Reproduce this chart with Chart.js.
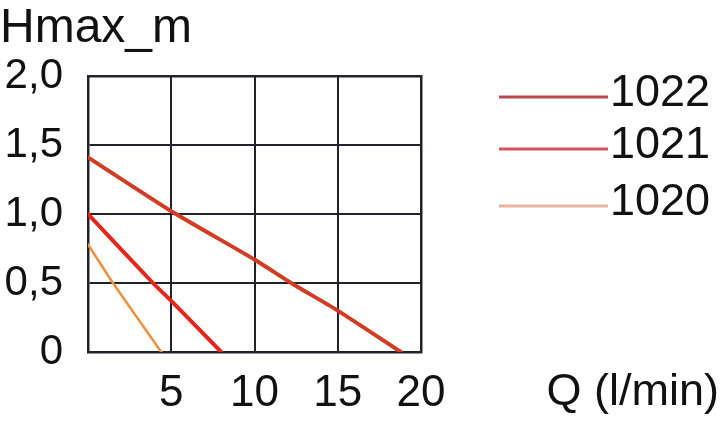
<!DOCTYPE html>
<html>
<head>
<meta charset="utf-8">
<script src="https://cdn.jsdelivr.net/npm/chart.js@4.4.0/dist/chart.umd.min.js"></script>
<style>
  html, body { margin: 0; padding: 0; background: #ffffff; }
  #wrap { width: 720px; height: 424px; position: relative; }
</style>
</head>
<body>
<div id="wrap"><canvas id="c" width="720" height="424"></canvas></div>
<script>
// ---- data ----
const seriesLabels = ['1022', '1021', '1020'];
const q1022 = [0, 5, 10, 12.2, 15, 18.8];
const h1022 = [1.41, 1.02, 0.67, 0.5, 0.3, 0];
const q1021 = [0, 3.9, 5, 8.0];
const h1021 = [1.0, 0.5, 0.37, 0];
const q1020 = [0, 1.5, 4.4];
const h1020 = [0.78, 0.5, 0];
const xTickLabels = ['', '5', '10', '15', '20'];
const yTickLabels = ['0', '0,5', '1,0', '1,5', '2,0'];
const yTitle = 'Hmax_m';
const xTitle = 'Q (l/min)';

// ---- styles ----
const lineColors = ['#d13c22', '#e6261c', '#f0913a'];
const legendColors = ['#b54a52', '#d8505e', '#e9b5a0'];
const lineWidths = [4, 4, 2.5];
const FONT = '"Liberation Sans", Arial, Helvetica, sans-serif';
const TEXT = '#111111';
const GRID = '#22222c';

function pts(xs, ys) { return xs.map((x, i) => ({ x: x, y: ys[i] })); }
const allData = [pts(q1022, h1022), pts(q1021, h1021), pts(q1020, h1020)];

const datasets = allData.map((d, i) => ({
  label: seriesLabels[i],
  data: d,
  borderColor: lineColors[i],
  backgroundColor: lineColors[i],
  borderWidth: lineWidths[i],
  borderCapStyle: 'round',
  borderJoinStyle: 'round',
  pointRadius: 0,
  tension: 0.15,
  fill: false
}));

const textPlugin = {
  id: 'textPlugin',
  afterDraw(chart) {
    const ctx = chart.ctx;
    ctx.save();
    ctx.fillStyle = TEXT;
    ctx.textBaseline = 'alphabetic';
    ctx.font = '48px ' + FONT;
    ctx.textAlign = 'left';
    ctx.fillText(yTitle, 0, 42);
    ctx.font = '45px ' + FONT;
    ctx.textAlign = 'right';
    ctx.fillText(xTitle, 719, 405);
    // legend
    const lineYs = [97, 149, 206];
    seriesLabels.forEach((lab, i) => {
      ctx.strokeStyle = legendColors[i];
      ctx.lineWidth = 3;
      ctx.lineCap = 'butt';
      ctx.beginPath();
      ctx.moveTo(499, lineYs[i]);
      ctx.lineTo(608, lineYs[i]);
      ctx.stroke();
      ctx.fillStyle = TEXT;
      ctx.textAlign = 'left';
      ctx.font = '45px ' + FONT;
      ctx.fillText(lab, 610, lineYs[i] + 9);
    });
    ctx.restore();
  }
};

new Chart(document.getElementById('c'), {
  type: 'line',
  data: { datasets: datasets },
  options: {
    responsive: false,
    animation: false,
    devicePixelRatio: 1,
    layout: { padding: { top: 76, right: 299, left: 0, bottom: 0 } },
    plugins: { legend: { display: false }, title: { display: false }, tooltip: { enabled: false } },
    scales: {
      x: {
        type: 'linear',
        min: 0, max: 20,
        afterFit(s) { s.height = 72; },
        afterBuildTicks(s) { s.ticks = xTickLabels.map((t, i) => ({ value: i * 5 })); },
        ticks: {
          stepSize: 5,
          autoSkip: false,
          maxRotation: 0,
          padding: 15,
          color: TEXT,
          font: { family: FONT, size: 44 },
          callback: (v, i) => xTickLabels[i]
        },
        grid: { color: GRID, lineWidth: 2, drawTicks: false },
        border: { display: true, color: GRID, width: 2.5 }
      },
      y: {
        type: 'linear',
        min: 0, max: 2,
        afterFit(s) { s.width = 88; },
        afterBuildTicks(s) { s.ticks = yTickLabels.map((t, i) => ({ value: i * 0.5 })); },
        ticks: {
          stepSize: 0.5,
          autoSkip: false,
          padding: 25,
          color: TEXT,
          font: { family: FONT, size: 42 },
          callback: (v, i) => yTickLabels[i]
        },
        grid: { color: GRID, lineWidth: 2, drawTicks: false },
        border: { display: true, color: GRID, width: 2.5 }
      },
      x2: {
        type: 'linear', position: 'top', min: 0, max: 20,
        ticks: { display: false }, grid: { display: false },
        border: { display: true, color: GRID, width: 2.5 },
        afterFit(s) { s.height = 0; }
      },
      y2: {
        type: 'linear', position: 'right', min: 0, max: 2,
        ticks: { display: false }, grid: { display: false },
        border: { display: true, color: GRID, width: 2.5 },
        afterFit(s) { s.width = 0; }
      }
    }
  },
  plugins: [textPlugin]
});
</script>
</body>
</html>
